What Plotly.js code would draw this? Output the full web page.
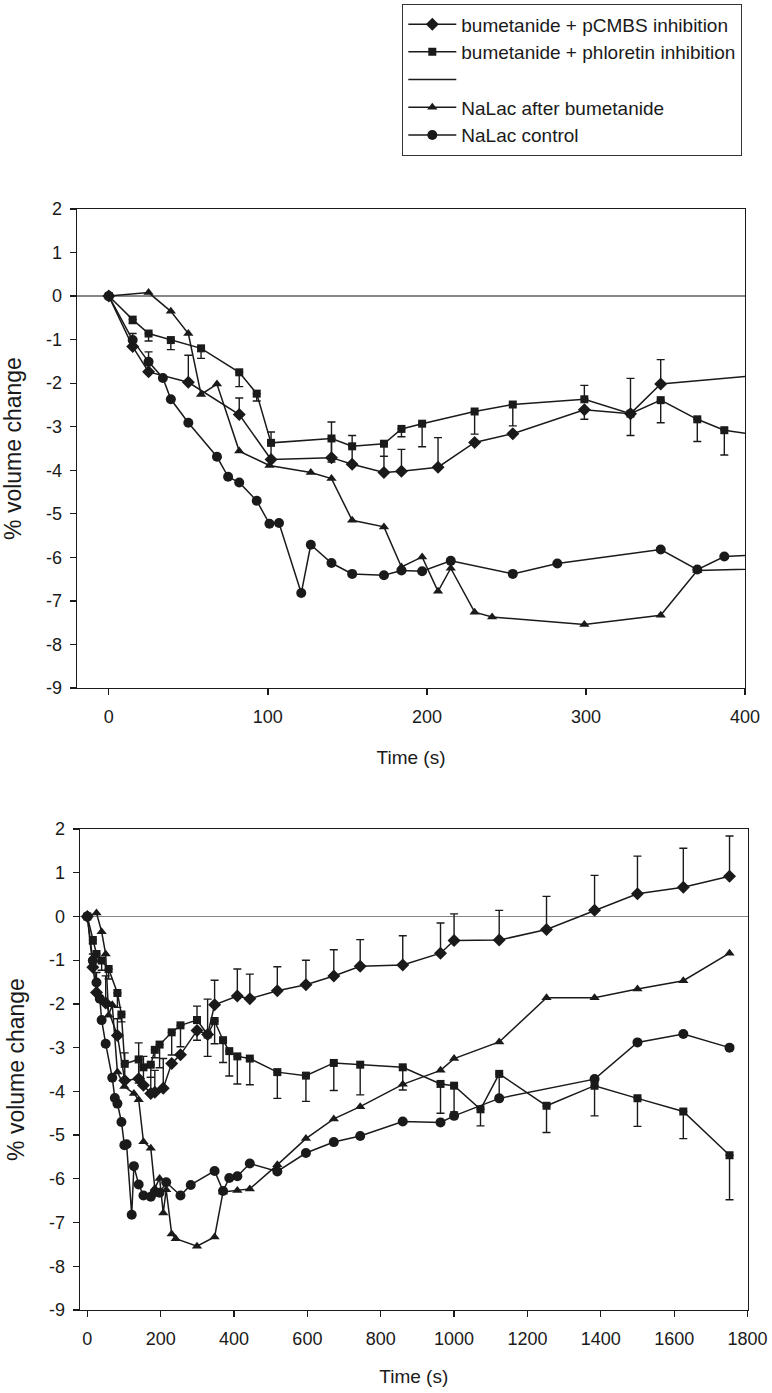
<!DOCTYPE html>
<html>
<head>
<meta charset="utf-8">
<script src="https://cdn.plot.ly/plotly-3.0.1.min.js"></script>
<style>html,body{margin:0;padding:0;background:#fff;}#chart{width:772px;height:1393px;}</style>
</head>
<body>
<div id="chart"></div>
<script>
// ---- Data (time in s, % volume change) ----
const seriesNames = [
  "bumetanide + pCMBS inhibition",
  "bumetanide + phloretin inhibition",
  " ",
  "NaLac after bumetanide",
  "NaLac control"
];

const pcmbsX = [0, 15, 25, 50, 82, 102, 140, 153, 173, 184, 207, 230, 254, 299, 328, 347, 409, 443, 518, 596, 672, 744, 860, 963, 1000, 1123, 1252, 1383, 1500, 1625, 1751];
const pcmbsY = [0, -1.16, -1.74, -1.98, -2.72, -3.75, -3.71, -3.86, -4.05, -4.02, -3.93, -3.36, -3.16, -2.61, -2.70, -2.02, -1.82, -1.88, -1.70, -1.56, -1.36, -1.14, -1.11, -0.84, -0.55, -0.54, -0.30, 0.14, 0.52, 0.67, 0.92];
const pcmbsErrUp = [0, 0.30, 0.46, 0.62, 0.38, 0.63, 0.82, 0.66, 0.37, 0.50, 0.68, 0, 0, 0, 0.81, 0.56, 0.62, 0.56, 0.55, 0.56, 0.60, 0.61, 0.67, 0.69, 0.61, 0.68, 0.76, 0.80, 0.86, 0.89, 0.92];
const pcmbsErrDown = [0, 0, 0, 0, 0, 0, 0, 0, 0, 0, 0, 0, 0, 0.22, 0, 0, 0, 0, 0, 0, 0, 0, 0, 0, 0, 0, 0, 0, 0, 0, 0];

const phlorX = [0, 15, 25, 39, 58, 82, 93, 102, 140, 153, 173, 184, 197, 230, 254, 299, 328, 347, 370, 387, 409, 443, 518, 596, 672, 744, 860, 963, 1000, 1072, 1123, 1252, 1383, 1500, 1625, 1751];
const phlorY = [0, -0.54, -0.86, -1.01, -1.20, -1.75, -2.24, -3.37, -3.27, -3.45, -3.39, -3.05, -2.93, -2.65, -2.49, -2.37, -2.70, -2.39, -2.83, -3.08, -3.20, -3.25, -3.56, -3.64, -3.35, -3.39, -3.45, -3.83, -3.87, -4.41, -3.60, -4.33, -3.87, -4.16, -4.46, -5.46];
const phlorErrUp = [0, 0, 0, 0, 0, 0, 0, 0, 0, 0, 0, 0, 0, 0, 0, 0.32, 0, 0, 0, 0, 0, 0, 0, 0, 0, 0, 0, 0, 0, 0, 0, 0, 0, 0, 0, 0];
const phlorErrDown = [0, 0.09, 0.17, 0.22, 0.23, 0.33, 0.17, 0, 0.54, 0, 0.29, 0.18, 0.53, 0.52, 0.49, 0, 0.50, 0.52, 0.51, 0.57, 0.63, 0.60, 0.60, 0.59, 0.63, 0.69, 0.52, 0.67, 0.60, 0.38, 0.50, 0.61, 0.69, 0.64, 0.62, 1.02];

const afterBumX = [0, 25, 39, 50, 58, 68, 82, 101, 127, 140, 153, 173, 184, 197, 207, 215, 230, 241, 299, 347, 370, 409, 443, 518, 596, 672, 744, 860, 963, 1000, 1123, 1252, 1383, 1500, 1625, 1751];
const afterBumY = [0, 0.08, -0.35, -0.86, -2.26, -2.02, -3.56, -3.89, -4.05, -4.19, -5.15, -5.30, -6.22, -5.99, -6.78, -6.25, -7.26, -7.37, -7.54, -7.33, -6.30, -6.27, -6.23, -5.68, -5.08, -4.63, -4.35, -3.84, -3.52, -3.25, -2.87, -1.86, -1.86, -1.66, -1.47, -0.84];

const controlX = [0, 15, 25, 34, 39, 50, 68, 75, 82, 93, 101, 107, 121, 127, 140, 153, 173, 184, 197, 215, 254, 282, 347, 370, 387, 409, 443, 518, 596, 672, 744, 860, 963, 1000, 1123, 1383, 1500, 1625, 1751];
const controlY = [0, -1.01, -1.51, -1.88, -2.37, -2.91, -3.69, -4.15, -4.28, -4.70, -5.23, -5.21, -6.82, -5.71, -6.13, -6.38, -6.41, -6.30, -6.32, -6.08, -6.38, -6.14, -5.82, -6.28, -5.98, -5.94, -5.65, -5.83, -5.41, -5.16, -5.02, -4.69, -4.71, -4.56, -4.16, -3.72, -2.88, -2.69, -3.00];

const yTicks = [-9, -8, -7, -6, -5, -4, -3, -2, -1, 0, 1, 2];
const yTickLabels = ["-9", "-8", "-7", "-6", "-5", "-4", "-3", "-2", "-1", "0", "1", "2"];
const xTicksTop = [0, 100, 200, 300, 400];
const xTicksBottom = [0, 200, 400, 600, 800, 1000, 1200, 1400, 1600, 1800];

// ---- Styles ----
const INK = "#1a1a1a";
const FONT = "Liberation Sans, Arial, Helvetica, sans-serif";

function errSpec(up, down) {
  return {type: "data", symmetric: false, array: up, arrayminus: down,
          color: INK, thickness: 1.4, width: 4};
}

function makeTraces(xa, ya, showLegend) {
  const base = {type: "scatter", mode: "lines+markers", xaxis: xa, yaxis: ya,
                line: {color: INK, width: 1.5}, cliponaxis: true};
  return [
    Object.assign({}, base, {name: seriesNames[0], x: pcmbsX, y: pcmbsY, showlegend: showLegend,
      marker: {symbol: "diamond", size: 10, color: INK},
      error_y: errSpec(pcmbsErrUp, pcmbsErrDown)}),
    Object.assign({}, base, {name: seriesNames[1], x: phlorX, y: phlorY, showlegend: showLegend,
      marker: {symbol: "square", size: 8, color: INK},
      error_y: errSpec(phlorErrUp, phlorErrDown)}),
    Object.assign({}, base, {name: seriesNames[2], x: [null], y: [null], mode: "lines", showlegend: showLegend}),
    Object.assign({}, base, {name: seriesNames[3], x: afterBumX, y: afterBumY, showlegend: showLegend,
      marker: {symbol: "triangle-up", size: 9, color: INK}}),
    Object.assign({}, base, {name: seriesNames[4], x: controlX, y: controlY, showlegend: showLegend,
      marker: {symbol: "circle", size: 10, color: INK}})
  ];
}

const data = makeTraces("x", "y", true).concat(makeTraces("x2", "y2", false));

const W = 772, H = 1393;
function axisCommon() {
  return {
    showline: true, mirror: true, linecolor: INK, linewidth: 1.3,
    ticks: "outside", ticklen: 6, tickwidth: 1.3, tickcolor: INK,
    showgrid: false, tickfont: {family: FONT, size: 18, color: INK}
  };
}
const xTitleFont = {family: FONT, size: 19, color: INK};
const yTitleFont = {family: FONT, size: 23, color: INK};

const layout = {
  width: W, height: H,
  margin: {l: 0, r: 0, t: 0, b: 0},
  paper_bgcolor: "#fff", plot_bgcolor: "#fff",
  font: {family: FONT, color: INK},
  showlegend: true,
  legend: {
    x: 742 / W, xanchor: "right", y: 1 - 4 / H, yanchor: "top",
    bordercolor: "#333", borderwidth: 1.3, bgcolor: "#fff",
    font: {family: FONT, size: 19, color: INK},
    itemwidth: 48, traceorder: "normal", tracegroupgap: 0
  },
  xaxis: Object.assign(axisCommon(), {
    domain: [77 / W, 745 / W], range: [-20, 400], tickvals: xTicksTop,
    zeroline: false, anchor: "y", ticklabelstandoff: 6,
    title: {text: "Time (s)", font: xTitleFont, standoff: 24}
  }),
  yaxis: Object.assign(axisCommon(), {
    domain: [1 - 688 / H, 1 - 209 / H], range: [-9, 2], tickvals: yTicks, ticktext: yTickLabels,
    zeroline: true, zerolinecolor: "#888", zerolinewidth: 1.5, anchor: "x", ticklabelstandoff: 4,
    title: {text: "% volume change", font: yTitleFont, standoff: 18}
  }),
  xaxis2: Object.assign(axisCommon(), {
    domain: [80 / W, 747.5 / W], range: [-20, 1800], tickvals: xTicksBottom,
    zeroline: false, anchor: "y2", ticklabelstandoff: 6,
    title: {text: "Time (s)", font: xTitleFont, standoff: 21}
  }),
  yaxis2: Object.assign(axisCommon(), {
    domain: [1 - 1310 / H, 1 - 829 / H], range: [-9, 2], tickvals: yTicks, ticktext: yTickLabels,
    zeroline: true, zerolinecolor: "#888", zerolinewidth: 1.5, anchor: "x2", ticklabelstandoff: 4,
    title: {text: "% volume change", font: yTitleFont, standoff: 18}
  })
};

Plotly.newPlot("chart", data, layout, {staticPlot: true, displayModeBar: false});
</script>
</body>
</html>
